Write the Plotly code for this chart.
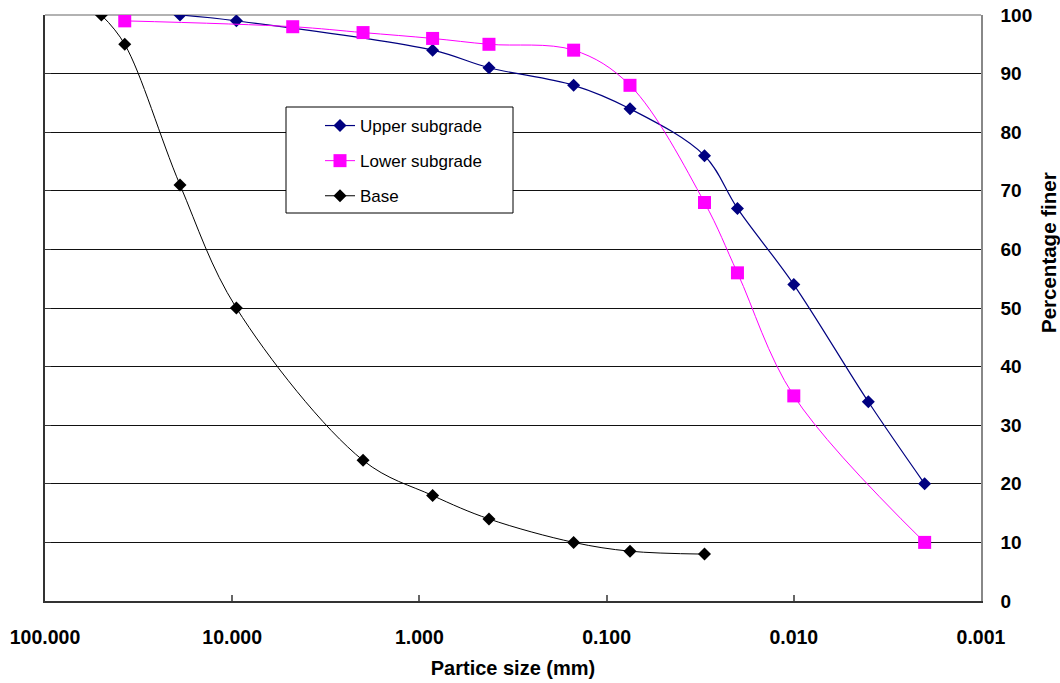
import plotly.graph_objects as go

# ---- data ----
sizes_upper = [19, 9.5, 0.85, 0.425, 0.15, 0.075, 0.03, 0.02, 0.01, 0.004, 0.002]
upper = [100, 99, 94, 91, 88, 84, 76, 67, 54, 34, 20]

sizes_lower = [37.5, 4.75, 2.0, 0.85, 0.425, 0.15, 0.075, 0.03, 0.02, 0.01, 0.002]
lower = [99, 98, 97, 96, 95, 94, 88, 68, 56, 35, 10]

sizes_base = [50, 37.5, 19, 9.5, 2.0, 0.85, 0.425, 0.15, 0.075, 0.03]
base = [100, 95, 71, 50, 24, 18, 14, 10, 8.5, 8]

x_tickvals = [100, 10, 1, 0.1, 0.01, 0.001]
x_ticktext = ["100.000", "10.000", "1.000", "0.100", "0.010", "0.001"]
y_tickvals = [0, 10, 20, 30, 40, 50, 60, 70, 80, 90, 100]

FONT = "Arial, Liberation Sans, sans-serif"

fig = go.Figure()
fig.add_trace(go.Scatter(
    x=sizes_upper, y=upper, mode="lines+markers", name="Upper subgrade",
    legendgroup="u", yaxis="y",
    line=dict(color="#000080", width=1.2, shape="spline"),
    marker=dict(symbol="diamond", size=10, color="#000080"),
))
fig.add_trace(go.Scatter(
    x=sizes_lower, y=lower, mode="lines+markers", name="Lower subgrade",
    legendgroup="l", yaxis="y",
    line=dict(color="#FF00FF", width=1, shape="spline"),
    marker=dict(symbol="square", size=13, color="#FF00FF"),
))
fig.add_trace(go.Scatter(
    x=sizes_base, y=base, mode="lines+markers", name="Base",
    legendgroup="b", yaxis="y2",
    line=dict(color="#000000", width=1, shape="spline"),
    marker=dict(symbol="diamond", size=10, color="#000000"),
))

# body margin is removed in the page (post_script), figure fills the window
W, H = 1060, 683
PL, PR, PT, PB = 45, 981, 15, 601  # plot area in page pixels
L, R, T, B = PL, W - PR, PT, H - PB
pw, ph = PR - PL, PB - PT

def px_x(p):
    return (p - PL) / pw

def px_y(p):
    return (PB - p) / ph

fig.update_layout(
    width=W, height=H,
    margin=dict(l=L, r=R, t=T, b=B),
    paper_bgcolor="white", plot_bgcolor="white",
    font=dict(family=FONT, color="black"),
    showlegend=True,
    legend=dict(
        x=px_x(320), y=px_y(108), xanchor="left", yanchor="top",
        bgcolor="rgba(0,0,0,0)", borderwidth=0,
        font=dict(size=17, family=FONT),
        traceorder="grouped", tracegroupgap=10,
    ),
    shapes=[
        dict(
            type="rect", xref="paper", yref="paper",
            x0=px_x(286), x1=px_x(513), y0=px_y(213), y1=px_y(107),
            line=dict(color="black", width=1), fillcolor="white", layer="above",
        ),
        dict(
            type="line", xref="paper", yref="paper",
            x0=0, x1=1, y0=1, y1=1,
            line=dict(color="#999", width=1.5), layer="below",
        ),
    ],
    annotations=[dict(
        text="Percentage finer", xref="paper", yref="paper",
        x=px_x(1048), y=px_y(253), xanchor="center", yanchor="middle",
        textangle=-90, showarrow=False,
        font=dict(size=20.5, weight="bold", family=FONT, color="black"),
    )],
    xaxis=dict(
        type="log", range=[2, -3],
        tickvals=x_tickvals, ticktext=x_ticktext,
        ticks="inside", ticklen=6, tickcolor="#666", tickwidth=2,
        showline=True, linecolor="#333", linewidth=1.5,
        showgrid=False, zeroline=False, automargin=False,
        tickfont=dict(size=19.5, weight="bold", family=FONT),
        ticklabelstandoff=18,
        title=dict(text="Partice size (mm)", font=dict(size=20, weight="bold", family=FONT), standoff=14),
    ),
    yaxis=dict(
        side="left", range=[0, 100], tickvals=y_tickvals,
        showgrid=True, gridcolor="#111", gridwidth=1,
        showline=True, linecolor="#333", linewidth=1.5,
        ticks="inside", ticklen=6, tickcolor="#333",
        showticklabels=False, zeroline=False, automargin=False,
    ),
    yaxis2=dict(
        overlaying="y", side="right", range=[0, 100], tickvals=y_tickvals,
        showgrid=False, showline=True, linecolor="#888", linewidth=1.5,
        ticks="", zeroline=False, automargin=False,
        tickfont=dict(size=19, weight="bold", family=FONT),
        ticklabelstandoff=14, ticklabeloverflow="allow",
    ),
)

fig.write_html(
    "out.html",
    config={"displayModeBar": False},
    post_script="document.body.style.margin='0px';document.body.style.overflow='hidden';",
)
